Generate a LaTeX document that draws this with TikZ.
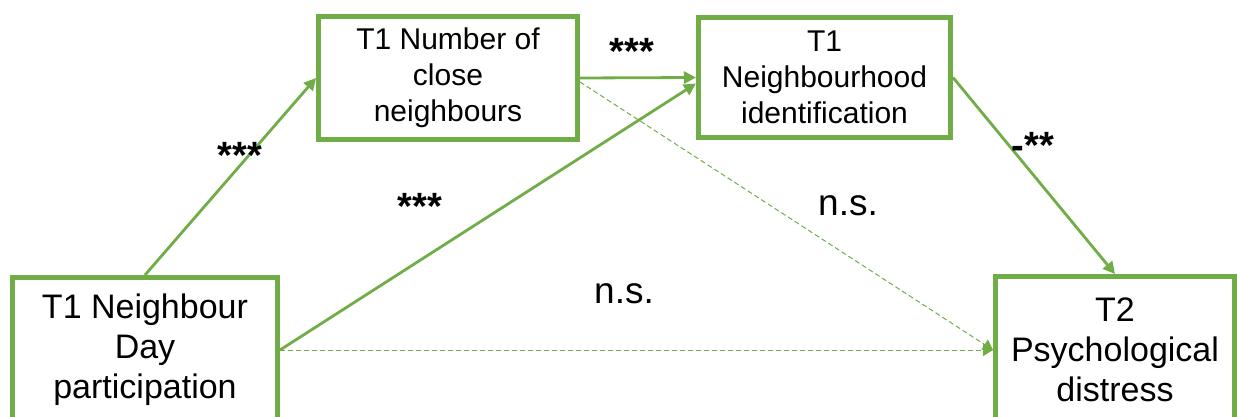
\documentclass[tikz,border=0pt]{standalone}
\usepackage{fontspec}
\setmainfont{Liberation Sans}
\usepackage{tikz}
\usetikzlibrary{arrows.meta, calc}
\definecolor{boxgreen}{RGB}{112,173,71}

\tikzset{
	varbox/.style={draw=boxgreen, line width=2.5pt, fill=white, align=center, inner sep=0pt, font=\fontsize{17}{20}\selectfont},
	smallbox/.style={varbox, font=\fontsize{15}{18}\selectfont},
	effect/.style={draw=boxgreen, line width=1.4pt, -{Triangle[length=6pt,width=6pt]}},
	noeffect/.style={draw=boxgreen, line width=0.5pt, dash pattern=on 2.5pt off 1.5pt, -{Triangle[length=5pt,width=6pt]}},
	sig/.style={font=\fontsize{19}{20}\selectfont\bfseries, anchor=base},
	nonsig/.style={font=\fontsize{18.5}{20}\selectfont, anchor=base}
}

\begin{document}
\begin{tikzpicture}[x=0.5pt, y=-0.5pt]
		\useasboundingbox (0,0) rectangle (1237,417);
		
		\node[varbox, minimum width=132.5pt, minimum height=72.5pt] (part) at (145,350) {T1 Neighbour\\Day\\participation};
		\node[smallbox, minimum width=129.5pt, minimum height=61.5pt] (close) at (448,78) {T1 Number of\\close\\neighbours};
		\node[smallbox, minimum width=126pt, minimum height=60pt] (ident) at (824.5,77.5) {T1\\Neighbourhood\\identification};
		\node[varbox, minimum width=119.5pt, minimum height=73.5pt] (distress) at (1115,350) {T2\\Psychological\\distress};
		
		\draw[effect] (part.north) -- (close.west);
		\draw[effect] (close.east) -- (ident.west);
		\draw[effect] (part.east) -- ([yshift=-3pt]ident.west);
		\draw[effect] (ident.east) -- (distress.north);
		\draw[noeffect] ([yshift=-2pt]close.east) -- (distress.west);
		\draw[noeffect] (part.east) -- (distress.west);
		
		\node[sig] (sPC) at (240,169) {***};
		\node[sig] (sPI) at (420,220) {***};
		\node[sig] (sCI) at (632,65) {***};
		\node[sig] (sID) at (1033,158) {-**};
		\node[nonsig] (nCD) at (848,215) {n.s.};
		\node[nonsig] (nPD) at (624,303) {n.s.};
\end{tikzpicture}
\end{document}
